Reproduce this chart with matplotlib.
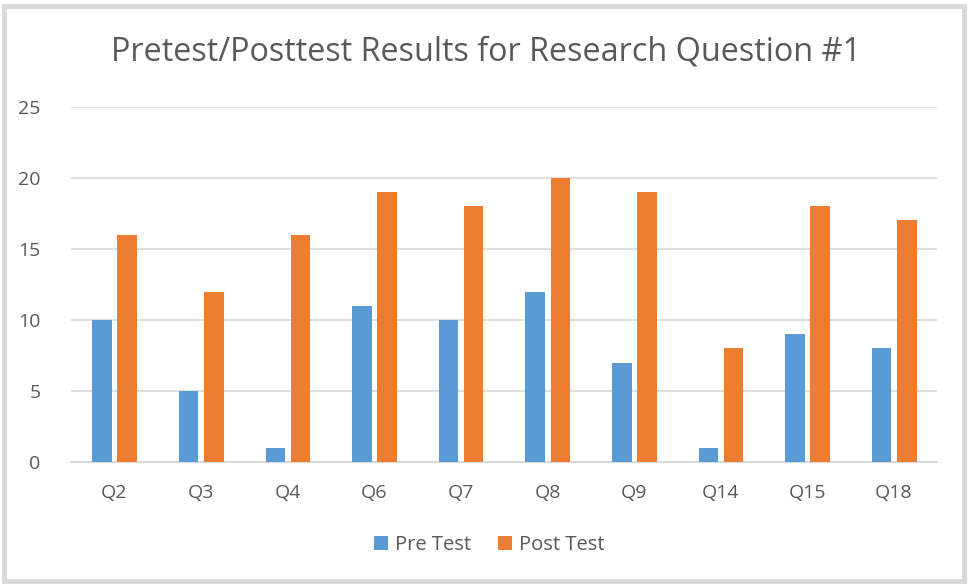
import numpy as np
import matplotlib.pyplot as plt
from matplotlib.patches import Rectangle

categories = ['Q2', 'Q3', 'Q4', 'Q6', 'Q7', 'Q8', 'Q9', 'Q14', 'Q15', 'Q18']
pre_test = [10, 5, 1, 11, 10, 12, 7, 1, 9, 8]
post_test = [16, 12, 16, 19, 18, 20, 19, 8, 18, 17]

plt.rcParams['font.family'] = ['Open Sans', 'DejaVu Sans']
text_col = '#595959'
grid_col = '#D9D9D9'

fig = plt.figure(figsize=(9.69, 5.84), dpi=100)
ax = fig.add_axes([0.0733, 0.209, 0.894, 0.608])

x = np.arange(len(categories))
w = 0.225
ax.bar(x - 0.142, pre_test, w, color='#5B9BD5', label='Pre Test', zorder=3)
ax.bar(x + 0.148, post_test, w, color='#ED7D31', label='Post Test', zorder=3)

ax.set_xlim(-0.5, len(categories) - 0.5)
ax.set_ylim(0, 25)
ax.set_yticks(range(0, 26, 5))
ax.set_xticks(x)
ax.set_xticklabels(categories)
ax.grid(axis='y', color=grid_col, linewidth=1.2, zorder=0)
for s in ['top', 'right', 'left']:
    ax.spines[s].set_visible(False)
ax.spines['bottom'].set_color(grid_col)
ax.spines['bottom'].set_linewidth(1.5)
ax.tick_params(axis='both', length=0, labelsize=14, labelcolor=text_col)
ax.tick_params(axis='y', pad=22)
ax.tick_params(axis='x', pad=16)

fig.text(0.502, 0.911, 'Pretest/Posttest Results for Research Question #1',
         ha='center', va='center', fontsize=23.3, color=text_col)

fig.legend(loc='center', bbox_to_anchor=(0.505, 0.067), ncol=2, frameon=False,
           fontsize=14.5, labelcolor=text_col, handlelength=0.7, handleheight=0.7,
           handletextpad=0.35, columnspacing=1.3)

fig.patches.append(Rectangle((0.004, 0.005), 0.991, 0.985, transform=fig.transFigure,
                             fill=False, edgecolor=grid_col, linewidth=3.5))

fig.savefig('out.png', dpi=100)
